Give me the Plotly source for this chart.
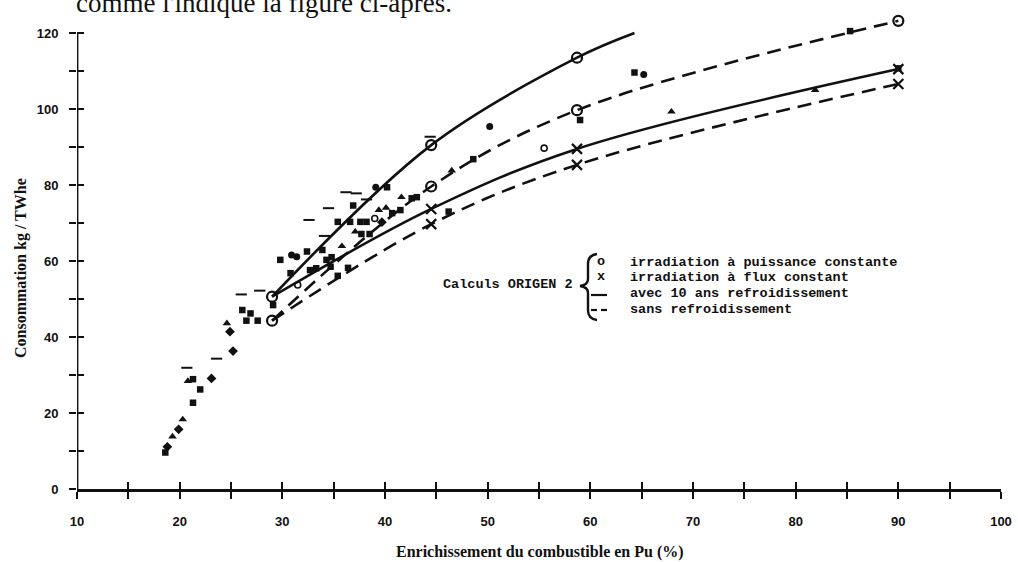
import plotly.graph_objects as go

# ---------------- data ----------------
# ORIGEN 2 calculations (curve points)
pc_cool_x = [29.0, 44.5, 58.7, 64.3]      # constant power, 10 y cooling (solid)
pc_cool_y = [50.6, 90.5, 113.5, 120.0]
pc_nocool_x = [29.0, 44.5, 58.7, 90.0]    # constant power, no cooling (dashed)
pc_nocool_y = [44.3, 79.6, 99.7, 123.2]
fl_cool_x = [29.0, 44.5, 58.7, 90.0]      # constant flux, 10 y cooling (solid)
fl_cool_y = [50.6, 73.7, 89.5, 110.5]
fl_nocool_x = [29.0, 44.5, 58.7, 90.0]    # constant flux, no cooling (dashed)
fl_nocool_y = [44.3, 69.7, 85.3, 106.6]

# experimental / other points
sq_x = [18.6, 21.3, 21.3, 22.0, 26.1, 26.9, 26.5, 27.6, 29.1, 29.8, 32.4, 33.9, 30.8, 32.7, 33.3,
        34.3, 34.8, 34.7, 35.4, 36.4, 35.4, 36.6, 37.6, 38.2, 36.9, 37.7, 38.5, 40.2, 40.7, 41.5,
        42.6, 43.1, 46.2, 48.6, 59.0, 64.3, 85.3, 90.0]
sq_y = [9.6, 22.7, 28.9, 26.2, 47.1, 46.2, 44.3, 44.3, 48.4, 60.3, 62.5, 62.9, 56.8, 57.6, 58.1,
        60.3, 61.0, 58.5, 56.1, 58.2, 70.3, 70.3, 70.3, 70.3, 74.6, 67.1, 67.1, 79.4, 72.6, 73.4,
        76.5, 76.8, 73.0, 86.8, 97.1, 109.6, 120.5, 110.7]
tri_x = [19.3, 20.3, 20.8, 24.6, 35.8, 37.1, 39.4, 40.1, 41.6, 46.5, 67.9, 81.9]
tri_y = [13.8, 18.3, 28.4, 43.6, 63.9, 67.7, 73.4, 74.0, 76.8, 83.8, 99.3, 105.0]
dia_x = [18.8, 19.9, 23.1, 25.2, 24.9, 39.7]
dia_y = [11.1, 15.7, 29.1, 36.3, 41.4, 70.2]
circ_x = [30.9, 31.4, 39.1, 50.2, 65.2]
circ_y = [61.6, 61.1, 79.4, 95.4, 109.1]
dash_x = [20.7, 23.6, 26.0, 27.8, 32.6, 34.1, 34.5, 36.2, 37.2, 38.2, 44.4]
dash_y = [31.9, 34.3, 51.2, 52.2, 70.8, 66.6, 73.9, 78.1, 77.8, 76.2, 92.7]
ocirc_x = [31.5, 39.0, 55.5]
ocirc_y = [53.7, 71.2, 89.7]

x_ticks = list(range(10, 101, 5))
x_labels = [str(v) if v % 10 == 0 else "" for v in x_ticks]
y_ticks = list(range(0, 121, 10))
y_labels = [str(v) if v % 20 == 0 else "" for v in y_ticks]

# ---------------- layout helpers (pixel -> data) ----------------
L, R, T, B = 77, 17, 3, 73
W, H = 1018, 562
PW, PH = W - L - R, H - T - B
XR = [10, 100]
YPX = 3.8
YR = [0, PH / YPX]

def px2x(px):
    return XR[0] + (px - L) * (XR[1] - XR[0]) / PW

def py2y(py):
    return (H - B - py) / YPX

BLACK = "#111111"
fig = go.Figure()

line_w = 2.6
dash_pat = "14px,8px"
fig.add_trace(go.Scatter(x=pc_cool_x, y=pc_cool_y, mode="lines", line=dict(color=BLACK, width=line_w, shape="spline"), hoverinfo="skip"))
fig.add_trace(go.Scatter(x=pc_nocool_x, y=pc_nocool_y, mode="lines", line=dict(color=BLACK, width=line_w, dash=dash_pat, shape="spline"), hoverinfo="skip"))
fig.add_trace(go.Scatter(x=fl_cool_x, y=fl_cool_y, mode="lines", line=dict(color=BLACK, width=line_w, shape="spline"), hoverinfo="skip"))
fig.add_trace(go.Scatter(x=fl_nocool_x, y=fl_nocool_y, mode="lines", line=dict(color=BLACK, width=line_w, dash=dash_pat, shape="spline"), hoverinfo="skip"))

# calc markers
fig.add_trace(go.Scatter(x=pc_cool_x[:3] + pc_nocool_x, y=pc_cool_y[:3] + pc_nocool_y, mode="markers",
                         marker=dict(symbol="circle-open", size=10, color=BLACK, line=dict(width=2.2, color=BLACK))))
fig.add_trace(go.Scatter(x=fl_cool_x[1:] + fl_nocool_x[1:], y=fl_cool_y[1:] + fl_nocool_y[1:], mode="markers",
                         marker=dict(symbol="x-thin", size=10, color=BLACK, line=dict(width=2.2, color=BLACK))))

# experimental points
fig.add_trace(go.Scatter(x=sq_x, y=sq_y, mode="markers", marker=dict(symbol="square", size=6.5, color=BLACK)))
fig.add_trace(go.Scatter(x=tri_x, y=tri_y, mode="markers", marker=dict(symbol="triangle-up", size=7.5, color=BLACK)))
fig.add_trace(go.Scatter(x=dia_x, y=dia_y, mode="markers", marker=dict(symbol="diamond", size=7.5, color=BLACK)))
fig.add_trace(go.Scatter(x=circ_x, y=circ_y, mode="markers", marker=dict(symbol="circle", size=7, color=BLACK)))
fig.add_trace(go.Scatter(x=dash_x, y=dash_y, mode="markers", marker=dict(symbol="line-ew", size=8, line=dict(width=2, color=BLACK))))
fig.add_trace(go.Scatter(x=ocirc_x, y=ocirc_y, mode="markers", marker=dict(symbol="circle-open", size=6, color=BLACK, line=dict(width=1.6, color=BLACK))))

# overlay axes for crossing ticks
fig.add_trace(go.Scatter(x=[None], y=[None], xaxis="x2", yaxis="y", showlegend=False))
fig.add_trace(go.Scatter(x=[None], y=[None], xaxis="x", yaxis="y2", showlegend=False))

tick_font_b = dict(family="Liberation Sans, Arial, sans-serif", size=13, color=BLACK, weight="bold")

fig.update_layout(
    width=W, height=H,
    margin=dict(l=L, r=R, t=T, b=B),
    paper_bgcolor="white", plot_bgcolor="white",
    showlegend=False,
    xaxis=dict(range=XR, tickmode="array", tickvals=x_ticks, ticktext=x_labels, ticks="outside",
               ticklen=7, tickwidth=2, tickcolor=BLACK, showline=True, linewidth=2.8, linecolor=BLACK,
               showgrid=False, zeroline=False, tickfont=tick_font_b, ticklabelstandoff=11, fixedrange=True),
    xaxis2=dict(range=XR, overlaying="x", anchor="y", side="bottom", tickmode="array", tickvals=x_ticks,
                ticks="inside", ticklen=7, tickwidth=2, tickcolor=BLACK, showticklabels=False,
                showgrid=False, zeroline=False, showline=False),
    yaxis=dict(range=YR, tickmode="array", tickvals=y_ticks, ticktext=y_labels, ticks="outside",
               ticklen=7, tickwidth=2, tickcolor=BLACK, showline=False, showgrid=False, zeroline=False,
               tickfont=tick_font_b, ticklabelstandoff=8, fixedrange=True),
    yaxis2=dict(range=YR, overlaying="y", anchor="x", side="left", tickmode="array", tickvals=y_ticks,
                ticks="inside", ticklen=7, tickwidth=2, tickcolor=BLACK, showticklabels=False,
                showgrid=False, zeroline=False, showline=False),
)

# y axis line (0 to 120 only)
fig.add_shape(type="line", xref="x", yref="y", x0=10, x1=10, y0=0, y1=120, line=dict(color=BLACK, width=2.8))

# brace for the key
pts = [(597, 254), (588, 255), (588, 264), (588, 279), (588, 285), (580, 286), (588, 287), (588, 293),
       (588, 310), (588, 319), (597, 320)]
P = [(px2x(a), py2y(b)) for a, b in pts]
path = (f"M {P[0][0]},{P[0][1]} Q {P[1][0]},{P[1][1]} {P[2][0]},{P[2][1]} L {P[3][0]},{P[3][1]} "
        f"Q {P[4][0]},{P[4][1]} {P[5][0]},{P[5][1]} Q {P[6][0]},{P[6][1]} {P[7][0]},{P[7][1]} "
        f"L {P[8][0]},{P[8][1]} Q {P[9][0]},{P[9][1]} {P[10][0]},{P[10][1]}")
fig.add_shape(type="path", xref="x", yref="y", path=path, line=dict(color=BLACK, width=2.4))

# key line samples
fig.add_shape(type="line", xref="x", yref="y", x0=px2x(591), x1=px2x(607), y0=py2y(295), y1=py2y(295),
              line=dict(color=BLACK, width=2.2))
fig.add_shape(type="line", xref="x", yref="y", x0=px2x(591), x1=px2x(597), y0=py2y(310), y1=py2y(310),
              line=dict(color=BLACK, width=2.2))
fig.add_shape(type="line", xref="x", yref="y", x0=px2x(601), x1=px2x(607), y0=py2y(310), y1=py2y(310),
              line=dict(color=BLACK, width=2.2))

mono = dict(family="Liberation Mono, DejaVu Sans Mono, monospace", size=13.5, color=BLACK, weight="bold")
def note(text, px, py, font, xanchor="left", **kw):
    fig.add_annotation(text=text, x=px2x(px), y=py2y(py), xref="x", yref="y", showarrow=False,
                       xanchor=xanchor, yanchor="middle", font=font, **kw)

note("Calculs ORIGEN 2", 441, 284, mono)
note("o", 601, 261, mono, xanchor="center")
note("x", 601, 276, mono, xanchor="center")
note("irradiation à puissance constante", 628, 262, mono)
note("irradiation à flux constant", 628, 277, mono)
note("avec 10 ans refroidissement", 628, 293, mono)
note("sans refroidissement", 628, 309, mono)

serif_b = dict(family="Liberation Serif, Times New Roman, serif", size=16, color=BLACK, weight="bold")
fig.add_annotation(text="Enrichissement du combustible en Pu (%)", x=(540 - L) / PW, y=(H - B - 552) / PH,
                   xref="paper", yref="paper", showarrow=False, xanchor="center", yanchor="middle", font=serif_b)
fig.add_annotation(text="Consommation kg / TWhe", x=(21 - L) / PW, y=(H - B - 268) / PH, textangle=-90,
                   xref="paper", yref="paper", showarrow=False, xanchor="center", yanchor="middle", font=serif_b)
fig.add_annotation(text="comme l'indique la figure ci-après.", x=(74 - L) / PW, y=(H - B - 3) / PH,
                   xref="paper", yref="paper", showarrow=False, xanchor="left", yanchor="middle",
                   font=dict(family="Liberation Serif, Times New Roman, serif", size=27, color=BLACK))

fig.write_html("out.html")
